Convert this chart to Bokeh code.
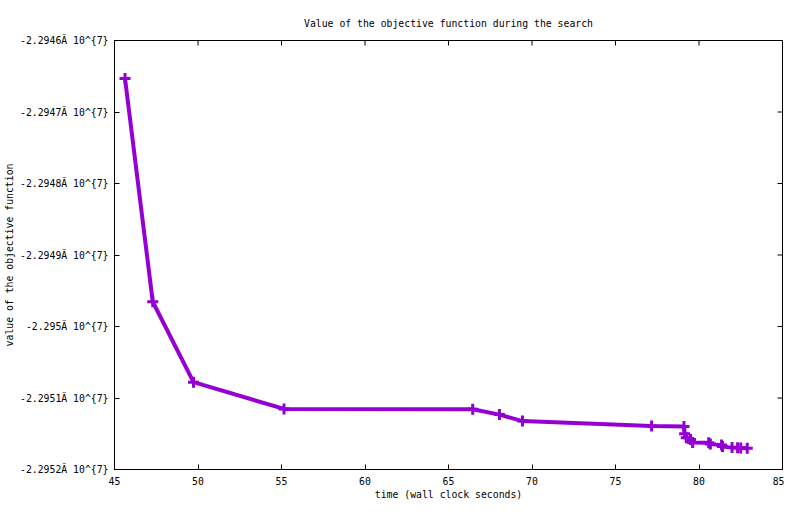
from bokeh.plotting import figure
from bokeh.models import FixedTicker, Range1d
from bokeh.embed import file_html
from bokeh.resources import INLINE

# search trace: wall clock time vs objective value
times = [45.63, 47.29, 49.73, 55.15, 66.45, 68.05, 69.43, 77.16, 79.10, 79.14,
         79.24, 79.49, 79.62, 80.58, 80.68, 81.35, 81.41, 81.98, 82.31, 82.50, 82.89]
values = [-22946530, -22949654, -22950778, -22951153, -22951158, -22951232,
          -22951323, -22951393, -22951400, -22951500, -22951555, -22951579,
          -22951624, -22951626, -22951645, -22951659, -22951680, -22951694,
          -22951697, -22951701, -22951702]

x_ticks = [45, 50, 55, 60, 65, 70, 75, 80, 85]
y_ticks = [-22946000, -22947000, -22948000, -22949000, -22950000, -22951000, -22952000]
y_tick_labels = ["-2.2946Ã 10^{7}", "-2.2947Ã 10^{7}", "-2.2948Ã 10^{7}", "-2.2949Ã 10^{7}",
                 "-2.295Ã 10^{7}", "-2.2951Ã 10^{7}", "-2.2952Ã 10^{7}"]

FONT = "DejaVu Sans Mono"
FSIZE = "9.8px"
COLOR = "#9400D3"

X0, X1 = 45, 85
Y0, Y1 = -22952000, -22946000
FW, FH = 668, 429
TICK = 5

p = figure(frame_width=FW, frame_height=FH, x_range=Range1d(X0, X1), y_range=Range1d(Y0, Y1),
           output_backend="svg", toolbar_location=None,
           min_border_left=114, min_border_right=2,
           min_border_top=40, min_border_bottom=29,
           title="Value of the objective function during the search")
p.grid.visible = False
p.outline_line_color = "black"
p.outline_line_width = 1

p.title.align = "center"
p.title.text_font = FONT
p.title.text_font_size = FSIZE
p.title.text_font_style = "normal"
p.title.text_color = "black"
p.title.standoff = 23

for ax in p.axis:
    ax.major_tick_in = TICK
    ax.major_tick_out = 0
    ax.minor_tick_line_color = None
    ax.axis_line_color = "black"
    ax.major_tick_line_color = "black"
    ax.major_label_text_font = FONT
    ax.major_label_text_font_size = FSIZE
    ax.major_label_text_color = "black"
    ax.axis_label_text_font = FONT
    ax.axis_label_text_font_size = FSIZE
    ax.axis_label_text_font_style = "normal"
    ax.axis_label_text_color = "black"

p.xaxis.ticker = FixedTicker(ticks=x_ticks)
p.xaxis.major_label_standoff = 7
p.xaxis.axis_label = "time (wall clock seconds)"
p.xaxis.axis_label_standoff = 1

p.yaxis.ticker = FixedTicker(ticks=y_ticks)
p.yaxis.major_label_overrides = dict(zip(y_ticks, y_tick_labels))
p.yaxis.major_label_standoff = 6
p.yaxis.axis_label = "value of the objective function"
p.yaxis.axis_label_standoff = 2

# mirrored ticks on the top and right borders (gnuplot style)
dx = TICK / FW * (X1 - X0)
dy = TICK / FH * (Y1 - Y0)
p.segment(x0=x_ticks, y0=[Y1] * len(x_ticks), x1=x_ticks, y1=[Y1 - dy] * len(x_ticks),
          line_color="black", line_width=1)
p.segment(x0=[X1] * len(y_ticks), y0=y_ticks, x1=[X1 - dx] * len(y_ticks), y1=y_ticks,
          line_color="black", line_width=1)

p.line(times, values, line_width=4, color=COLOR)
p.scatter(times, values, marker="cross", size=11, line_width=3, color=COLOR)

open("out.html", "w").write(file_html(p, INLINE))
